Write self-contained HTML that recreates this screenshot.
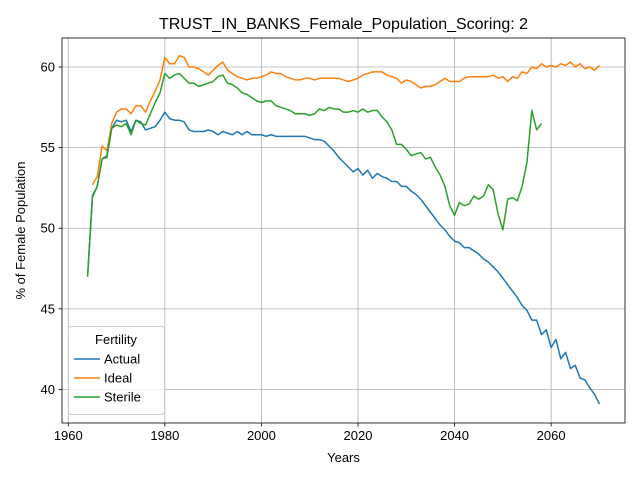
<!DOCTYPE html>
<html><head><meta charset="utf-8"><style>
body{margin:0;background:#fff;}
svg{font-family:"Liberation Sans","DejaVu Sans",sans-serif;}
</style></head><body>
<svg id="chart" width="640" height="480" viewBox="0 0 640 480" xmlns="http://www.w3.org/2000/svg"></svg>
<script>
const actualStart = 1964;
const actualValues = [47.0,52.0,52.6,54.3,54.4,56.2,56.7,56.6,56.7,56.0,56.7,56.6,56.1,56.2,56.3,56.7,57.2,56.8,56.7,56.7,56.6,56.1,56.0,56.0,56.0,56.1,56.0,55.8,56.0,55.9,55.8,56.0,55.8,56.0,55.8,55.8,55.8,55.7,55.8,55.7,55.7,55.7,55.7,55.7,55.7,55.7,55.6,55.5,55.5,55.4,55.1,54.8,54.4,54.1,53.8,53.5,53.7,53.3,53.6,53.1,53.4,53.2,53.1,52.9,52.9,52.6,52.6,52.3,52.1,51.8,51.4,51.0,50.6,50.2,49.9,49.5,49.2,49.1,48.8,48.8,48.6,48.4,48.1,47.9,47.6,47.3,46.9,46.5,46.1,45.7,45.2,44.9,44.3,44.3,43.4,43.7,42.6,43.1,41.9,42.3,41.3,41.5,40.7,40.6,40.1,39.7,39.1];
const idealStart = 1965;
const idealValues = [52.7,53.2,55.1,54.8,56.5,57.2,57.4,57.4,57.1,57.6,57.6,57.2,57.9,58.5,59.2,60.6,60.2,60.2,60.7,60.6,60.0,60.0,59.9,59.7,59.5,59.8,60.1,60.3,59.8,59.6,59.4,59.3,59.2,59.3,59.3,59.4,59.5,59.7,59.6,59.6,59.4,59.3,59.2,59.2,59.3,59.3,59.2,59.3,59.3,59.3,59.3,59.3,59.2,59.1,59.2,59.3,59.5,59.6,59.7,59.7,59.7,59.5,59.4,59.3,59.0,59.2,59.1,58.9,58.7,58.8,58.8,58.9,59.1,59.3,59.1,59.1,59.1,59.3,59.4,59.4,59.4,59.4,59.4,59.5,59.3,59.4,59.1,59.4,59.3,59.7,59.6,60.0,59.9,60.2,60.0,60.1,60.0,60.2,60.1,60.3,60.0,60.2,59.9,60.0,59.8,60.1];
const sterileStart = 1964;
const sterileValues = [47.0,51.9,52.6,54.3,54.5,56.2,56.4,56.3,56.5,55.8,56.7,56.5,56.4,57.1,57.8,58.4,59.6,59.3,59.5,59.6,59.3,59.0,59.0,58.8,58.9,59.0,59.1,59.4,59.5,59.0,58.9,58.7,58.4,58.3,58.1,57.9,57.8,57.9,57.9,57.6,57.5,57.4,57.3,57.1,57.1,57.1,57.0,57.1,57.4,57.3,57.5,57.4,57.4,57.2,57.2,57.3,57.2,57.4,57.2,57.3,57.3,56.9,56.6,56.1,55.2,55.2,54.9,54.5,54.6,54.7,54.3,54.4,53.8,53.3,52.6,51.4,50.8,51.6,51.4,51.5,52.0,51.8,52.0,52.7,52.4,50.9,49.9,51.8,51.9,51.7,52.6,54.1,57.3,56.1,56.5];
const xTicks = [1960,1980,2000,2020,2040,2060];
const yTicks = [40,45,50,55,60];

const NS="http://www.w3.org/2000/svg";
const svg=document.getElementById('chart');
const L=62,R=625,T=38,B=423;
const xMin=1958.7,xMax=2075.3,yMin=37.92,yMax=61.8;
const xs=v=>L+(v-xMin)/(xMax-xMin)*(R-L);
const ys=v=>B-(v-yMin)/(yMax-yMin)*(B-T);
function mk(tag,attrs,parent){const e=document.createElementNS(NS,tag);for(const k in attrs)e.setAttribute(k,attrs[k]);(parent||svg).appendChild(e);return e;}

const grid=mk('g',{});


xTicks.forEach(t=>{
  mk('line',{x1:xs(t),x2:xs(t),y1:T,y2:B,stroke:'#b0b0b0','stroke-width':0.8},grid);
  mk('line',{x1:xs(t),x2:xs(t),y1:B,y2:B+3.5,stroke:'#000','stroke-width':0.8},grid);
  const tx=mk('text',{x:xs(t),y:B+17,'font-size':13,'text-anchor':'middle',fill:'#000'});
  
  
  tx.textContent=t;
});
yTicks.forEach(t=>{
  mk('line',{x1:L,x2:R,y1:ys(t),y2:ys(t),stroke:'#b0b0b0','stroke-width':0.8},grid);
  mk('line',{x1:L-3.5,x2:L,y1:ys(t),y2:ys(t),stroke:'#000','stroke-width':0.8},grid);
  const tx=mk('text',{x:L-7,y:ys(t)+4.5,'font-size':13,'text-anchor':'end',fill:'#000'});
  
  
  tx.textContent=t;
});

function series(start,vals,color,name){
  const d=vals.map((v,i)=>(i?'L':'M')+xs(start+i).toFixed(2)+','+ys(v).toFixed(2)).join('');
  const p=mk('path',{d:d,fill:'none',stroke:color,'stroke-width':1.5,'stroke-linejoin':'round'});
  
  
}
series(actualStart,actualValues,'#1f77b4','actual-line');
series(idealStart,idealValues,'#ff7f0e','ideal-line');
series(sterileStart,sterileValues,'#2ca02c','sterile-line');

const frame=mk('rect',{x:L,y:T,width:R-L,height:B-T,fill:'none',stroke:'#000','stroke-width':0.8});



const title=mk('text',{x:(L+R)/2,y:29,'font-size':16,'text-anchor':'middle',fill:'#000'});


title.textContent='TRUST_IN_BANKS_Female_Population_Scoring: 2';
const xl=mk('text',{x:(L+R)/2,y:462,'font-size':13,'text-anchor':'middle',fill:'#000'});


xl.textContent='Years';
const yl=mk('text',{x:0,y:0,'font-size':13,'text-anchor':'middle',fill:'#000',transform:'translate(25,'+((T+B)/2)+') rotate(-90)'});


yl.textContent='% of Female Population';

const leg=mk('g',{});


mk('rect',{x:68.5,y:326.5,width:96,height:88,rx:3,fill:'#fff','fill-opacity':0.8,stroke:'#ccc','stroke-width':1},leg);
const lt=mk('text',{x:116,y:344,'font-size':13,'text-anchor':'middle',fill:'#000'},leg);


lt.textContent='Fertility';
[['Actual','#1f77b4'],['Ideal','#ff7f0e'],['Sterile','#2ca02c']].forEach((e,i)=>{
  const y=359+i*19;
  const g=mk('g',{},leg);
  
  
  mk('line',{x1:74,x2:100,y1:y,y2:y,stroke:e[1],'stroke-width':1.5},g);
  const t=mk('text',{x:104,y:y+4.5,'font-size':13,fill:'#000'},g);
  t.textContent=e[0];
});
</script>
</body></html>
